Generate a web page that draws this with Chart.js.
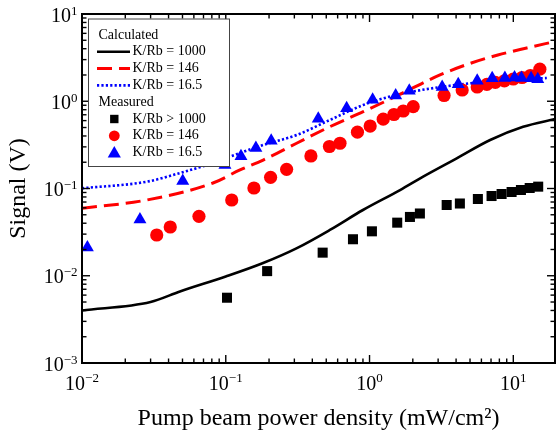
<!DOCTYPE html>
<html lang="en">
<head>
<meta charset="UTF-8">
<title>Signal vs pump beam power density</title>
<script src="https://cdn.jsdelivr.net/npm/chart.js@4"></script>
<style>
  body { margin: 0; background: #fff; }
  #wrap { width: 556px; height: 434px; }
</style>
</head>
<body>
<div id="wrap"><canvas id="grafico" width="556" height="434"></canvas></div>
<script>
// --- data ---
// calculated curves
const calc1000X = [0.01, 0.03, 0.048, 0.1, 0.18, 0.31, 0.53, 0.9, 1.63, 2.36, 4.04, 6.9, 11.7, 19.5];
const calc1000Y = [0.0040, 0.0050, 0.0066, 0.0098, 0.0139, 0.0206, 0.0335, 0.0567, 0.096, 0.137, 0.222, 0.36, 0.51, 0.626];

const calc146X = [0.01, 0.0282, 0.0815, 0.1256, 0.182, 0.311, 0.53, 0.904, 1.39, 2.0, 3.09, 4.99, 7.81, 12.4, 19.5];
const calc146Y = [0.0593, 0.0738, 0.1156, 0.163, 0.212, 0.330, 0.511, 0.759, 1.06, 1.42, 2.00, 2.71, 3.39, 4.08, 4.84];

const calc165X = [0.01, 0.0282, 0.048, 0.0815, 0.1256, 0.182, 0.311, 0.53, 0.904, 1.54, 4.99, 10, 17.1];
const calc165Y = [0.1005, 0.1197, 0.1505, 0.196, 0.255, 0.315, 0.410, 0.610, 0.906, 1.18, 1.606, 1.752, 1.847];

// measured points
const meas1000X = [0.102, 0.194, 0.472, 0.767, 1.039, 1.558, 1.91, 2.24, 3.44, 4.25, 5.67, 7.06, 8.29, 9.73, 11.3, 13.0, 14.9];
const meas1000Y = [0.0056, 0.0113, 0.0184, 0.0262, 0.0323, 0.0406, 0.0472, 0.0517, 0.0647, 0.0673, 0.0758, 0.082, 0.0865, 0.0912, 0.0961, 0.1013, 0.105];

const meas146X = [0.0331, 0.0411, 0.0651, 0.110, 0.157, 0.205, 0.265, 0.391, 0.526, 0.623, 0.824, 1.01, 1.245, 1.478, 1.716, 2.013, 3.30, 4.41, 5.61, 6.55, 7.5, 8.67, 10.0, 11.5, 13.15, 15.3];
const meas146Y = [0.0293, 0.0362, 0.048, 0.0738, 0.1013, 0.1344, 0.166, 0.236, 0.303, 0.330, 0.442, 0.520, 0.623, 0.705, 0.773, 0.866, 1.164, 1.346, 1.457, 1.564, 1.649, 1.716, 1.80, 1.872, 1.973, 2.33];

const meas165X = [0.0109, 0.0253, 0.0502, 0.0987, 0.1276, 0.162, 0.207, 0.44, 0.693, 1.051, 1.52, 1.89, 3.20, 4.14, 5.61, 7.13, 8.74, 10.2, 11.4, 13.3, 14.8];
const meas165Y = [0.0211, 0.0441, 0.122, 0.186, 0.234, 0.291, 0.353, 0.631, 0.830, 1.042, 1.164, 1.318, 1.457, 1.568, 1.72, 1.832, 1.847, 1.872, 1.847, 1.832, 1.785];

// tick labels (10^n)
const xTickExp = [-2, -1, 0, 1];
const yTickExp = [-3, -2, -1, 0, 1];

const serif = "'Liberation Serif', 'Times New Roman', serif";
const toPts = (xs, ys) => xs.map((v, i) => ({ x: v, y: ys[i] }));

// log ticks 1..9 x 10^n inside [min, max]
function logTicks(min, max) {
    const out = [];
    for (let e = Math.floor(Math.log10(min)); e <= Math.ceil(Math.log10(max)); e++) {
        for (let m = 1; m <= 9; m++) {
            const v = m * Math.pow(10, e);
            if (v >= min * 0.999 && v <= max * 1.001) out.push({ v, major: m === 1 });
        }
    }
    return out;
}

function supText(exp) {
    return String(exp).replace('-', '\u2212');
}

// inner ticks on all four sides, frame, and 10^n labels
const axesPlugin = {
    id: 'axesPlugin',
    afterDatasetsDraw(chart) {
        const { ctx, chartArea: a, scales: { x, y } } = chart;
        ctx.save();
        ctx.strokeStyle = '#000';
        ctx.lineWidth = 1.4;
        const seg = (x1, y1, x2, y2) => { ctx.beginPath(); ctx.moveTo(x1, y1); ctx.lineTo(x2, y2); ctx.stroke(); };

        logTicks(x.min, x.max).forEach(t => {
            const px = x.getPixelForValue(t.v);
            const len = t.major ? 8 : 4.5;
            seg(px, a.bottom, px, a.bottom - len);
            seg(px, a.top, px, a.top + len);
        });
        logTicks(y.min, y.max).forEach(t => {
            const py = y.getPixelForValue(t.v);
            const len = t.major ? 8 : 4.5;
            seg(a.left, py, a.left + len, py);
            seg(a.right, py, a.right - len, py);
        });

        ctx.lineWidth = 2;
        ctx.strokeRect(a.left, a.top, a.right - a.left, a.bottom - a.top);

        ctx.fillStyle = '#000';
        ctx.textBaseline = 'alphabetic';
        const big = '20px ' + serif, small = '13px ' + serif;

        xTickExp.forEach(e => {
            const px = x.getPixelForValue(Math.pow(10, e));
            ctx.font = big;
            const w1 = ctx.measureText('10').width;
            ctx.font = small;
            const w2 = ctx.measureText(supText(e)).width;
            const start = px - (w1 + w2) / 2;
            ctx.font = big;
            ctx.fillText('10', start, a.bottom + 27);
            ctx.font = small;
            ctx.fillText(supText(e), start + w1, a.bottom + 19);
        });

        yTickExp.forEach(e => {
            const py = y.getPixelForValue(Math.pow(10, e));
            ctx.font = big;
            const w1 = ctx.measureText('10').width;
            ctx.font = small;
            const w2 = ctx.measureText(supText(e)).width;
            const end = a.left - 4.5;
            ctx.font = big;
            ctx.fillText('10', end - w2 - w1, py + 7.5);
            ctx.font = small;
            ctx.fillText(supText(e), end - w2, py + 0.5);
        });
        ctx.restore();
    }
};

// boxed legend with two groups (Calculated / Measured)
const legendPlugin = {
    id: 'legendPlugin',
    afterDraw(chart) {
        const { ctx } = chart;
        const ds = chart.data.datasets;
        const box = { left: 88.5, top: 19, right: 229.5, bottom: 166.5 };
        ctx.save();
        ctx.fillStyle = '#fff';
        ctx.fillRect(box.left, box.top, box.right - box.left, box.bottom - box.top);
        ctx.strokeStyle = '#444';
        ctx.lineWidth = 1;
        ctx.strokeRect(box.left, box.top, box.right - box.left, box.bottom - box.top);

        ctx.font = '14px ' + serif;
        ctx.textBaseline = 'middle';
        ctx.fillStyle = '#000';
        const rowH = 16.8;
        let yy = 35;
        const textX = 132.5, symX = 114.3;

        ['Calculated', 'Measured'].forEach(group => {
            ctx.fillStyle = '#000';
            ctx.fillText(group, 98.5, yy);
            yy += rowH;
            ds.filter(d => d.group === group).sort((p, q) => p.legendRank - q.legendRank).forEach(d => {
                if (d.showLine) {
                    ctx.strokeStyle = d.borderColor;
                    ctx.lineWidth = d.borderWidth;
                    ctx.setLineDash(d.borderDash || []);
                    ctx.beginPath();
                    ctx.moveTo(97, yy);
                    ctx.lineTo(130, yy);
                    ctx.stroke();
                    ctx.setLineDash([]);
                } else {
                    ctx.fillStyle = d.backgroundColor;
                    ctx.beginPath();
                    if (d.pointStyle === 'rect') {
                        ctx.rect(symX - 4.2, yy - 4.2, 8.4, 8.4);
                    } else if (d.pointStyle === 'circle') {
                        ctx.arc(symX, yy, 5.4, 0, Math.PI * 2);
                    } else {
                        ctx.moveTo(symX, yy - 6.5);
                        ctx.lineTo(symX + 6.6, yy + 5);
                        ctx.lineTo(symX - 6.6, yy + 5);
                        ctx.closePath();
                    }
                    ctx.fill();
                }
                ctx.fillStyle = '#000';
                ctx.fillText(d.label, textX, yy);
                yy += rowH;
            });
        });
        ctx.restore();
    }
};

const ctx = document.getElementById('grafico').getContext('2d');
const grafico = new Chart(ctx, {
    type: 'scatter',
    data: {
        datasets: [
            {
                label: 'K/Rb = 16.5', group: 'Measured', legendRank: 3,
                data: toPts(meas165X, meas165Y),
                showLine: false, pointStyle: 'triangle', pointRadius: 7.5,
                backgroundColor: '#0000ff', borderColor: '#0000ff', pointBorderWidth: 0, order: 0
            },
            {
                label: 'K/Rb = 146', group: 'Measured', legendRank: 2,
                data: toPts(meas146X, meas146Y),
                showLine: false, pointStyle: 'circle', pointRadius: 6.6,
                backgroundColor: '#ff0000', borderColor: '#ff0000', pointBorderWidth: 0, order: 1
            },
            {
                label: 'K/Rb > 1000', group: 'Measured', legendRank: 1,
                data: toPts(meas1000X, meas1000Y),
                showLine: false, pointStyle: 'rect', pointRadius: 7.1,
                backgroundColor: '#000000', borderColor: '#000000', pointBorderWidth: 0, order: 2
            },
            {
                label: 'K/Rb = 1000', group: 'Calculated', legendRank: 1,
                data: toPts(calc1000X, calc1000Y),
                showLine: true, borderColor: '#000000', borderWidth: 2.6,
                pointRadius: 0, cubicInterpolationMode: 'monotone', order: 3
            },
            {
                label: 'K/Rb = 146', group: 'Calculated', legendRank: 2,
                data: toPts(calc146X, calc146Y),
                showLine: true, borderColor: '#ff0000', borderWidth: 3, borderDash: [15, 7],
                pointRadius: 0, cubicInterpolationMode: 'monotone', order: 4
            },
            {
                label: 'K/Rb = 16.5', group: 'Calculated', legendRank: 3,
                data: toPts(calc165X, calc165Y),
                showLine: true, borderColor: '#0000ff', borderWidth: 2.6, borderDash: [2.2, 2.2],
                pointRadius: 0, cubicInterpolationMode: 'monotone', order: 5
            }
        ]
    },
    options: {
        responsive: false,
        animation: false,
        layout: { autoPadding: false, padding: { top: 14, right: 1, left: 0, bottom: 0 } },
        plugins: { legend: { display: false }, tooltip: { enabled: false } },
        scales: {
            x: {
                type: 'logarithmic', min: 0.01, max: 19.5,
                grid: { display: false }, border: { display: false },
                ticks: { display: false },
                title: {
                    display: true, text: 'Pump beam power density (mW/cm\u00B2)',
                    color: '#000', font: { family: serif, size: 24 }, padding: { top: 0, bottom: 1 }
                },
                afterFit: s => { s.height = 71; }
            },
            y: {
                type: 'logarithmic', min: 0.001, max: 10,
                grid: { display: false }, border: { display: false },
                ticks: { display: false },
                title: {
                    display: true, text: 'Signal (V)',
                    color: '#000', font: { family: serif, size: 24 }, padding: { top: 4, bottom: 0 }
                },
                afterFit: s => { s.width = 82; }
            }
        }
    },
    plugins: [axesPlugin, legendPlugin]
});
</script>
</body>
</html>
